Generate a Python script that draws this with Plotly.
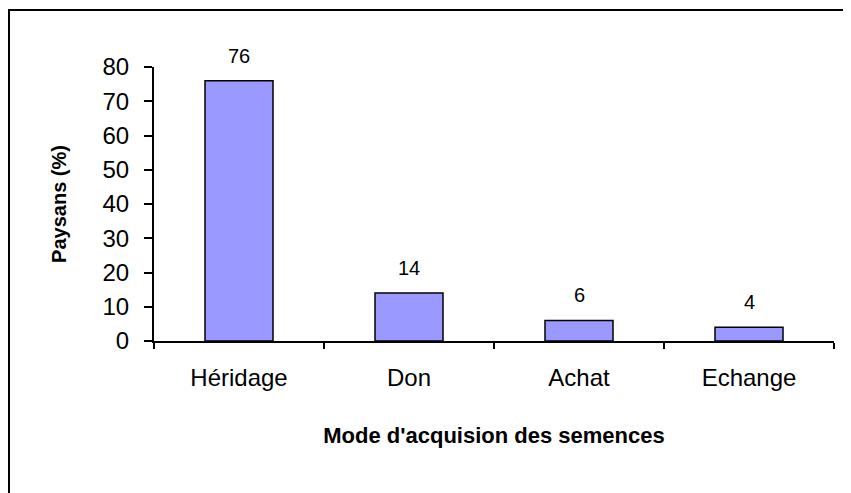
import plotly.graph_objects as go

categories = ["Héridage", "Don", "Achat", "Echange"]
values = [76, 14, 6, 4]
y_ticks = [0, 10, 20, 30, 40, 50, 60, 70, 80]

W, H = 851, 493
OFF = 8  # page body offset
L, T = 154 - OFF, 67 - OFF
pw, ph = 680, 274
R, B = W - L - pw, H - T - ph

fig = go.Figure()
fig.add_trace(go.Bar(
    x=categories, y=values,
    marker=dict(color="#9999FF", line=dict(color="black", width=1.5)),
    width=0.4,
))

for c, v in zip(categories, values):
    fig.add_annotation(x=c, y=v, text=str(v), showarrow=False,
                       yanchor="bottom", yshift=12,
                       font=dict(family="Liberation Sans, Arial", size=20, color="black"))

# outer frame (top and left edges visible)
fx0 = (9 - OFF - L) / pw
fy1 = (T + ph - (10 - OFF)) / ph
fig.add_shape(type="rect", xref="paper", yref="paper",
              x0=fx0, x1=2, y0=-2, y1=fy1,
              line=dict(color="black", width=2), fillcolor="rgba(0,0,0,0)", layer="below")

font_axis = dict(family="Liberation Sans, Arial", size=24, color="black")
fig.update_layout(
    width=W, height=H,
    margin=dict(l=L, r=R, t=T, b=B),
    paper_bgcolor="white", plot_bgcolor="white",
    showlegend=False,
    xaxis=dict(
        showline=True, linecolor="black", linewidth=2,
        ticks="outside", tickson="boundaries", ticklen=6, tickwidth=2, tickcolor="black",
        tickfont=font_axis, ticklabelstandoff=14,
        title=dict(text="<b>Mode d'acquision des semences</b>",
                   font=dict(family="Liberation Sans, Arial", size=22, color="black"),
                   standoff=38),
        showgrid=False,
    ),
    yaxis=dict(
        range=[0, 80], tickvals=y_ticks,
        showline=True, linecolor="black", linewidth=2,
        ticks="outside", ticklen=8, tickwidth=1.5, tickcolor="black",
        tickfont=font_axis, ticklabelstandoff=10,
        title=dict(text="<b>Paysans (%)</b>",
                   font=dict(family="Liberation Sans, Arial", size=20, color="black"),
                   standoff=30),
        showgrid=False, zeroline=False,
    ),
)

fig.write_html("out.html")
